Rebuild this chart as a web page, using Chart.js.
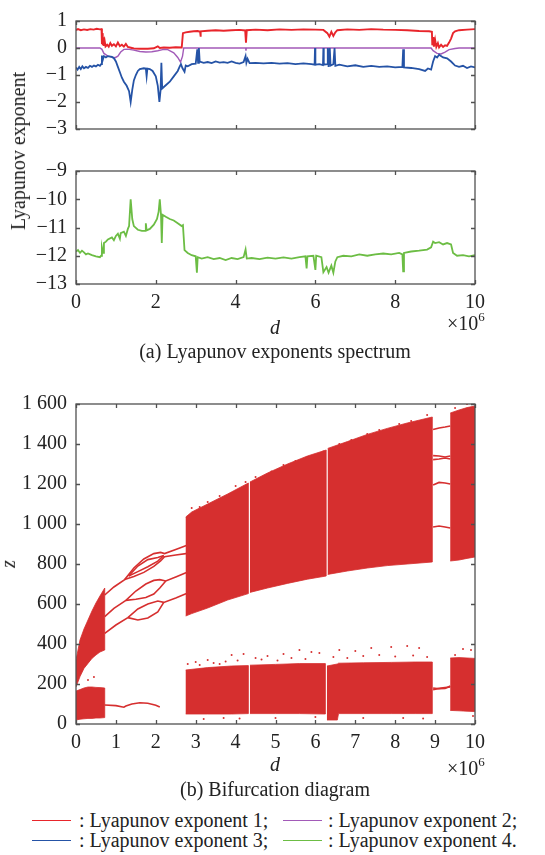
<!DOCTYPE html>
<html>
<head>
<meta charset="utf-8">
<script src="https://cdn.jsdelivr.net/npm/chart.js@4.4.1/dist/chart.umd.min.js"></script>
<style>
  body { margin: 0; background: #fff; }
  #wrap { position: relative; width: 545px; height: 855px; font-family: "Liberation Serif", "Times New Roman", serif; color: #222; }
  canvas { position: absolute; left: 0; }
  .t { position: absolute; white-space: nowrap; font-size: 20px; line-height: 20px; }
  .c { transform: translateX(-50%); }
  .sw { position: absolute; height: 0; border-top: 1.5px solid; width: 39px; }
  sup { font-size: 13px; line-height: 0; position: relative; top: -1px; }
</style>
</head>
<body>
<div id="wrap">
  <canvas id="lyapTop" style="top:0" width="545" height="150"></canvas>
  <canvas id="lyapBottom" style="top:150px" width="545" height="170"></canvas>
  <canvas id="bifurcation" style="top:380px" width="545" height="380"></canvas>

  <div class="t" style="left:18px; top:151px; transform: translate(-50%, -50%) rotate(-90deg);">Lyapunov exponent</div>
  <div class="t c" style="left:275px; top:317px; font-style:italic;">d</div>
  <div class="t" style="left:447px; top:313px;">×10<sup>6</sup></div>
  <div class="t c" style="left:275px; top:341px;">(a) Lyapunov exponents spectrum</div>

  <div class="t" style="left:4px; top:554px; transform: rotate(-90deg); font-style:italic;">z</div>
  <div class="t c" style="left:275px; top:754px; font-style:italic;">d</div>
  <div class="t" style="left:447px; top:758px;">×10<sup>6</sup></div>
  <div class="t c" style="left:275px; top:779px;">(b) Bifurcation diagram</div>

  <div class="sw" style="left:32px; top:820px; border-color:#e8252b;"></div>
  <div class="t" style="left:79px; top:810px;">: Lyapunov exponent 1;</div>
  <div class="sw" style="left:283px; top:820px; border-color:#a25ab8;"></div>
  <div class="t" style="left:328px; top:810px;">: Lyapunov exponent 2;</div>
  <div class="sw" style="left:32px; top:840px; border-color:#2553a6;"></div>
  <div class="t" style="left:79px; top:830px;">: Lyapunov exponent 3;</div>
  <div class="sw" style="left:283px; top:840px; border-color:#6cbd44;"></div>
  <div class="t" style="left:328px; top:830px;">: Lyapunov exponent 4.</div>
</div>

<script>
// d is given in units of 10^6
const RED = "#e8252b";
const PURPLE = "#a25ab8";
const BLUE = "#2553a6";
const GREEN = "#6cbd44";
const BIF = "#d62f2f";

// Lyapunov exponent 1
const le1D = [0, 0.05, 0.12, 0.2, 0.28, 0.36, 0.44, 0.52, 0.6, 0.64, 0.65, 0.66, 0.67, 0.69, 0.7, 0.72, 0.74, 0.78, 0.82, 0.86, 0.9, 0.95, 1.0, 1.05, 1.1, 1.15, 1.2, 1.25, 1.3, 1.35, 1.45, 1.6, 1.8, 1.95, 2.05, 2.1, 2.2, 2.35, 2.5, 2.65, 2.68, 2.75, 2.85, 2.95, 3.05, 3.11, 3.12, 3.13, 3.3, 3.5, 3.7, 3.9, 4.1, 4.24, 4.26, 4.28, 4.5, 4.8, 5.1, 5.4, 5.7, 6.0, 6.2, 6.3, 6.35, 6.4, 6.45, 6.5, 6.55, 6.8, 7.1, 7.4, 7.7, 8.0, 8.3, 8.6, 8.85, 8.92, 8.93, 8.95, 8.97, 9.0, 9.03, 9.07, 9.1, 9.15, 9.2, 9.25, 9.3, 9.35, 9.4, 9.45, 9.5, 9.6, 9.8, 10];
const le1 = [0.66, 0.70, 0.66, 0.69, 0.67, 0.70, 0.68, 0.71, 0.69, 0.70, 0.15, 0.55, 0.10, 0.40, 0.08, 0.25, 0.06, 0.12, 0.05, 0.18, 0.08, 0.14, 0.06, 0.20, 0.07, 0.12, 0.05, 0.15, 0.04, 0.02, -0.02, -0.03, -0.03, -0.01, 0.06, 0.0, 0.02, 0.01, 0.03, 0.02, 0.55, 0.58, 0.60, 0.62, 0.63, 0.60, 0.42, 0.62, 0.64, 0.66, 0.64, 0.66, 0.67, 0.65, 0.20, 0.66, 0.68, 0.66, 0.69, 0.67, 0.69, 0.68, 0.67, 0.55, 0.42, 0.60, 0.45, 0.58, 0.66, 0.69, 0.67, 0.70, 0.68, 0.67, 0.66, 0.63, 0.62, 0.60, 0.10, 0.40, 0.05, 0.30, 0.04, 0.18, 0.02, 0.12, 0.04, 0.10, 0.08, 0.20, 0.35, 0.55, 0.62, 0.66, 0.68, 0.70];

// Lyapunov exponent 2
const le2D = [0, 0.6, 0.65, 0.7, 0.8, 0.9, 0.98, 1.05, 1.12, 1.2, 1.3, 1.45, 1.6, 1.75, 1.9, 2.05, 2.2, 2.3, 2.45, 2.55, 2.62, 2.67, 2.7, 4.25, 4.26, 4.27, 8.9, 8.95, 9.05, 9.15, 9.25, 9.35, 9.5, 9.6, 10];
const le2 = [0, 0, -0.05, -0.2, -0.3, -0.34, -0.36, -0.3, -0.15, -0.05, -0.04, -0.08, -0.13, -0.15, -0.14, -0.1, -0.05, -0.06, -0.18, -0.35, -0.52, -0.3, 0, 0, -0.1, 0, 0, -0.1, -0.2, -0.22, -0.15, -0.06, -0.02, 0, 0];

// Lyapunov exponent 3
const le3D = [0, 0.04, 0.08, 0.12, 0.16, 0.2, 0.25, 0.3, 0.35, 0.4, 0.45, 0.5, 0.55, 0.6, 0.63, 0.65, 0.67, 0.7, 0.75, 0.8, 0.9, 0.95, 1.0, 1.05, 1.1, 1.15, 1.2, 1.27, 1.33, 1.37, 1.41, 1.45, 1.5, 1.55, 1.6, 1.7, 1.75, 1.77, 1.79, 1.85, 1.92, 2.0, 2.05, 2.09, 2.12, 2.14, 2.16, 2.25, 2.35, 2.45, 2.55, 2.6, 2.63, 2.67, 2.72, 2.75, 2.8, 2.9, 3.0, 3.04, 3.06, 3.08, 3.1, 3.2, 3.3, 3.4, 3.5, 3.6, 3.7, 3.8, 3.9, 4.0, 4.1, 4.2, 4.25, 4.27, 4.3, 4.35, 4.5, 4.7, 4.9, 5.1, 5.3, 5.5, 5.7, 5.9, 5.98, 5.99, 6.0, 6.1, 6.19, 6.2, 6.21, 6.3, 6.31, 6.33, 6.36, 6.38, 6.45, 6.48, 6.5, 6.6, 6.8, 7.0, 7.2, 7.4, 7.6, 7.8, 8.0, 8.18, 8.2, 8.22, 8.4, 8.6, 8.75, 8.82, 8.9, 8.95, 9.0, 9.05, 9.1, 9.2, 9.3, 9.4, 9.5, 9.6, 9.7, 9.8, 9.9, 10];
const le3 = [-0.72, -0.80, -0.70, -0.78, -0.68, -0.75, -0.70, -0.74, -0.66, -0.70, -0.65, -0.68, -0.62, -0.66, -0.60, -0.28, -0.45, -0.30, -0.35, -0.30, -0.33, -0.38, -0.50, -0.70, -0.90, -1.10, -1.25, -1.40, -1.60, -2.00, -1.55, -1.20, -1.00, -0.85, -0.78, -0.75, -0.76, -1.05, -0.76, -0.78, -0.85, -1.05, -1.40, -2.00, -1.55, -0.55, -1.50, -1.38, -1.25, -1.05, -0.85, -0.68, -0.60, -0.75, -0.88, -0.65, -0.68, -0.60, -0.58, -0.05, -0.55, 0, -0.50, -0.55, -0.52, -0.56, -0.50, -0.54, -0.52, -0.55, -0.50, -0.55, -0.58, -0.52, -0.30, -0.55, -0.40, -0.56, -0.55, -0.57, -0.55, -0.58, -0.56, -0.60, -0.57, -0.60, -0.62, 0, -0.62, -0.60, -0.63, 0, -0.62, -0.60, 0, -0.70, 0, -0.65, -0.60, 0, -0.66, -0.62, -0.68, -0.64, -0.70, -0.66, -0.70, -0.68, -0.72, -0.70, -0.05, -0.72, -0.74, -0.78, -0.85, -0.76, -0.80, -0.50, -0.30, -0.35, -0.25, -0.35, -0.38, -0.50, -0.65, -0.70, -0.66, -0.74, -0.68, -0.72];

// Lyapunov exponent 4
const le4D = [0, 0.05, 0.1, 0.15, 0.2, 0.25, 0.3, 0.4, 0.5, 0.6, 0.63, 0.65, 0.68, 0.7, 0.75, 0.8, 0.9, 0.95, 1.0, 1.05, 1.1, 1.12, 1.2, 1.25, 1.3, 1.33, 1.37, 1.41, 1.45, 1.55, 1.65, 1.73, 1.75, 1.77, 1.85, 1.95, 2.03, 2.07, 2.1, 2.13, 2.15, 2.17, 2.25, 2.35, 2.45, 2.55, 2.65, 2.68, 2.72, 2.8, 2.9, 3.0, 3.03, 3.05, 3.15, 3.3, 3.45, 3.6, 3.75, 3.9, 4.05, 4.2, 4.25, 4.28, 4.4, 4.6, 4.8, 5.0, 5.2, 5.4, 5.6, 5.75, 5.78, 5.8, 5.95, 6.0, 6.02, 6.15, 6.2, 6.28, 6.33, 6.4, 6.45, 6.5, 6.55, 6.7, 6.9, 7.1, 7.3, 7.5, 7.7, 7.9, 8.1, 8.18, 8.2, 8.22, 8.4, 8.6, 8.8, 8.9, 8.95, 9.0, 9.1, 9.2, 9.3, 9.4, 9.45, 9.55, 9.7, 9.85, 10];
const le4 = [-11.85, -11.80, -11.90, -11.82, -11.88, -11.95, -11.92, -11.98, -12.02, -12.05, -12.00, -11.70, -11.90, -11.55, -11.50, -11.42, -11.35, -11.45, -11.30, -11.22, -11.40, -11.20, -11.15, -11.30, -11.05, -10.95, -10.00, -10.70, -10.95, -11.08, -11.12, -11.12, -10.85, -11.10, -11.05, -10.90, -10.70, -10.45, -10.00, -10.55, -11.55, -10.55, -10.62, -10.70, -10.75, -10.85, -10.95, -10.92, -11.80, -11.90, -11.98, -12.02, -12.60, -12.05, -12.10, -12.05, -12.12, -12.08, -12.15, -12.08, -12.12, -12.05, -11.78, -12.10, -12.08, -12.12, -12.07, -12.10, -12.06, -12.10, -12.05, -12.02, -12.45, -12.02, -12.00, -12.50, -12.00, -12.05, -12.58, -12.40, -12.60, -12.35, -12.60, -12.20, -12.05, -12.00, -12.02, -11.95, -12.00, -11.95, -11.92, -11.95, -11.90, -11.95, -12.55, -11.90, -11.85, -11.82, -11.78, -11.70, -11.50, -11.55, -11.52, -11.60, -11.55, -11.60, -11.90, -12.00, -11.98, -12.02, -11.98];

// Bifurcation diagram: chaotic bands (lower / upper edge of z), null = periodic window
const bandLeftD = [0, 0.1, 0.2, 0.3, 0.4, 0.5, 0.6, 0.72];
const bandLeftLow = [185, 237, 278, 303, 328, 345, 360, 370];
const bandLeftHigh = [320, 420, 475, 520, 565, 605, 640, 680];
const bandLeftBottomLow = [20, 24, 26, 28, 28, 30, 30, 32];
const bandLeftBottomHigh = [165, 172, 180, 185, 185, 183, 182, 180];

const bandUpperD = [2.75, 2.9, 3.3, 3.8, 4.32, 4.34, 4.36, 4.8, 5.3, 5.8, 6.27, 6.29, 6.31, 6.8, 7.3, 7.8, 8.3, 8.93];
const bandUpperLow = [540, 552, 580, 620, 652, null, 658, 680, 703, 724, 740, null, 748, 765, 780, 792, 800, 810];
const bandUpperHigh = [1035, 1060, 1100, 1150, 1205, null, 1210, 1255, 1300, 1340, 1370, null, 1378, 1412, 1448, 1478, 1505, 1535];

const bandLowerD = [2.75, 3.3, 3.9, 4.32, 4.34, 4.36, 5.0, 5.6, 6.25, 6.27, 6.29, 6.55, 6.58, 7.2, 7.9, 8.5, 8.93];
const bandLowerLow = [50, 50, 50, 52, null, 52, 52, 52, 50, null, 20, 20, 52, 52, 52, 52, 52];
const bandLowerHigh = [270, 282, 290, 292, null, 294, 298, 302, 302, null, 290, 300, 304, 306, 308, 310, 310];

const bandRightD = [9.38, 9.6, 9.8, 10];
const bandRightLow = [815, 820, 828, 835];
const bandRightHigh = [1555, 1570, 1582, 1590];
const bandRightBottomLow = [68, 66, 64, 62];
const bandRightBottomHigh = [330, 332, 330, 328];

// scattered points along the band edges
const strayD = [2.8, 3.0, 3.3, 3.6, 3.9, 4.2, 4.5, 4.8, 5.2, 5.6, 5.9, 6.1, 6.6, 7.0, 7.4, 7.9, 8.3, 8.6, 9.7, 9.9,
                3.1, 3.45, 3.75, 4.05, 4.65, 5.05, 5.4, 5.75, 6.45, 6.8, 7.2, 7.6, 8.0, 8.45, 8.8, 9.5,
                3.2, 3.7, 4.1, 5.0, 6.0, 7.2, 8.2, 8.7, 9.95,
                2.9, 3.3, 4.0, 4.5, 5.2, 5.8, 6.6, 7.3, 8.1, 8.8, 9.5, 9.8,
                3.1, 3.6, 4.25, 4.9, 5.5, 6.2, 6.9, 7.6, 8.4, 0.45, 0.3];
const strayZ = [300, 310, 320, 300, 345, 350, 330, 340, 350, 370, 360, 355, 370, 365, 380, 385, 390, 380, 375, 370,
               295, 305, 312, 318, 322, 318, 330, 325, 335, 330, 340, 345, 338, 342, 335, 345,
               25, 30, 28, 30, 35, 30, 30, 28, 40,
               1080, 1110, 1190, 1235, 1295, 1335, 1400, 1450, 1500, 1545, 1580, 1600,
               1085, 1140, 1210, 1262, 1315, 1362, 1420, 1470, 1515, 235, 220];

// periodic branches between the chaotic bands
const br1D = [0.72, 0.95, 1.22, 1.45, 1.7, 1.95, 2.12, 2.22, 2.5, 2.8];
const br1Z = [645, 685, 722, 780, 825, 852, 858, 852, 873, 895];
const br2D = [1.22, 1.45, 1.7, 1.95, 2.12, 2.22, 2.5, 2.8];
const br2Z = [722, 738, 758, 788, 815, 836, 845, 853];
const br3D = [1.32, 1.55, 1.8, 2.05, 2.2];
const br3Z = [740, 790, 822, 832, 842];
const br4D = [1.32, 1.55, 1.8, 2.05, 2.2];
const br4Z = [740, 762, 786, 814, 842];
const br5D = [0.72, 0.95, 1.25, 1.5, 1.75, 1.95, 2.1, 2.25, 2.5, 2.8];
const br5Z = [537, 578, 618, 665, 700, 718, 722, 715, 735, 760];
const br6D = [1.25, 1.5, 1.75, 1.95, 2.1, 2.25];
const br6Z = [618, 624, 632, 650, 680, 715];
const br7D = [0.72, 1.0, 1.3, 1.55, 1.8, 2.05, 2.2, 2.5, 2.8];
const br7Z = [453, 495, 532, 575, 600, 615, 608, 630, 655];
const br8D = [1.3, 1.55, 1.8, 2.05, 2.2];
const br8Z = [532, 520, 530, 560, 608];
const br9D = [0.72, 1.0, 1.2, 1.25, 1.4, 1.6, 1.8, 2.0, 2.1];
const br9Z = [95, 92, 84, 90, 100, 106, 104, 94, 85];

const windowD = [8.95, 9.1, 9.25, 9.38];
const window1 = [1472, 1480, 1485, 1490];
const window2 = [1342, 1340, 1335, 1340];
const window3 = [1322, 1325, 1330, 1325];
const window4 = [1195, 1208, 1205, 1200];
const window5 = [985, 990, 985, 980];
const window6 = [172, 178, 182, 185];
const window7 = [180, 176, 178, 190];

Chart.defaults.font.family = "'Liberation Serif', 'Times New Roman', serif";
Chart.defaults.font.size = 20;
Chart.defaults.color = "#222";
Chart.defaults.animation = false;

function points(xs, ys) {
  return xs.map((x, i) => ({ x, y: ys[i] }));
}

function lineSet(xs, ys, color, width) {
  return {
    type: "line",
    data: points(xs, ys),
    borderColor: color,
    borderWidth: width,
    pointRadius: 0,
    fill: false,
    tension: 0
  };
}

// splits a band at nulls; each run becomes one closed outline
// (lower edge left to right, upper edge back) filled as a shape
function bandSets(xs, low, high, color) {
  const sets = [];
  let start = 0;
  for (let i = 0; i <= xs.length; i++) {
    if (i === xs.length || low[i] === null) {
      if (i > start) {
        const lowerEdge = points(xs.slice(start, i), low.slice(start, i));
        const upperEdge = points(xs.slice(start, i), high.slice(start, i)).reverse();
        sets.push({
          type: "line",
          data: lowerEdge.concat(upperEdge),
          borderColor: color,
          borderWidth: 0.8,
          backgroundColor: color,
          pointRadius: 0,
          fill: "shape",
          tension: 0
        });
      }
      start = i + 1;
    }
  }
  return sets;
}

function minus(v) {
  return String(v).replace("-", "\u2212");
}

// frame with inward ticks on all four sides
const frame = {
  id: "frame",
  afterDraw(chart) {
    const { ctx, chartArea: a } = chart;
    const x = chart.scales.x;
    const y = chart.scales.y;
    const len = 4;
    ctx.save();
    ctx.strokeStyle = "#505050";
    ctx.lineWidth = 1.3;
    ctx.strokeRect(a.left, a.top, a.right - a.left, a.bottom - a.top);
    ctx.beginPath();
    x.ticks.forEach(t => {
      const px = Math.round(x.getPixelForValue(t.value)) + 0.5;
      ctx.moveTo(px, a.bottom); ctx.lineTo(px, a.bottom - len);
      ctx.moveTo(px, a.top); ctx.lineTo(px, a.top + len);
    });
    y.ticks.forEach(t => {
      const py = Math.round(y.getPixelForValue(t.value)) + 0.5;
      ctx.moveTo(a.left, py); ctx.lineTo(a.left + len, py);
      ctx.moveTo(a.right, py); ctx.lineTo(a.right - len, py);
    });
    ctx.stroke();
    ctx.restore();
  }
};

function makeOptions(o) {
  return {
    responsive: false,
    maintainAspectRatio: false,
    devicePixelRatio: 1,
    layout: { autoPadding: false, padding: { left: 0, right: 70, top: o.top, bottom: 0 } },
    plugins: { legend: { display: false }, tooltip: { enabled: false } },
    scales: {
      x: {
        type: "linear",
        min: 0,
        max: 10,
        grid: { display: false, drawTicks: false },
        border: { display: false },
        ticks: { display: o.xLabels, stepSize: o.xStep, padding: 7, maxRotation: 0 },
        afterFit: s => { s.height = o.xHeight; }
      },
      y: {
        min: o.yMin,
        max: o.yMax,
        grid: { display: false, drawTicks: false },
        border: { display: false },
        ticks: { stepSize: o.yStep, padding: 9, callback: o.yFormat },
        afterFit: s => { s.width = 76; }
      }
    }
  };
}

new Chart(document.getElementById("lyapTop"), {
  type: "line",
  data: {
    datasets: [
      lineSet(le3D, le3, BLUE, 1.8),
      lineSet(le2D, le2, PURPLE, 1.4),
      lineSet(le1D, le1, RED, 1.9)
    ]
  },
  options: makeOptions({ top: 15, xHeight: 13, xLabels: false, xStep: 2, yMin: -3, yMax: 1, yStep: 1, yFormat: v => minus(v) }),
  plugins: [frame]
});

new Chart(document.getElementById("lyapBottom"), {
  type: "line",
  data: { datasets: [lineSet(le4D, le4, GREEN, 1.8)] },
  options: makeOptions({ top: 13, xHeight: 36, xLabels: true, xStep: 2, yMin: -13, yMax: -9, yStep: 1, yFormat: v => minus(v) }),
  plugins: [frame]
});

const bifSets = [
  ...bandSets(bandLeftD, bandLeftLow, bandLeftHigh, BIF),
  ...bandSets(bandLeftD, bandLeftBottomLow, bandLeftBottomHigh, BIF),
  ...bandSets(bandUpperD, bandUpperLow, bandUpperHigh, BIF),
  ...bandSets(bandLowerD, bandLowerLow, bandLowerHigh, BIF),
  ...bandSets(bandRightD, bandRightLow, bandRightHigh, BIF),
  ...bandSets(bandRightD, bandRightBottomLow, bandRightBottomHigh, BIF),
  lineSet(br1D, br1Z, BIF, 1.6),
  lineSet(br2D, br2Z, BIF, 1.6),
  lineSet(br3D, br3Z, BIF, 1.6),
  lineSet(br4D, br4Z, BIF, 1.6),
  lineSet(br5D, br5Z, BIF, 1.6),
  lineSet(br6D, br6Z, BIF, 1.6),
  lineSet(br7D, br7Z, BIF, 1.6),
  lineSet(br8D, br8Z, BIF, 1.6),
  lineSet(br9D, br9Z, BIF, 1.6),
  lineSet(windowD, window1, BIF, 1.6),
  lineSet(windowD, window2, BIF, 1.6),
  lineSet(windowD, window3, BIF, 1.6),
  lineSet(windowD, window4, BIF, 1.6),
  lineSet(windowD, window5, BIF, 1.6),
  lineSet(windowD, window6, BIF, 1.6),
  lineSet(windowD, window7, BIF, 1.6),
  {
    type: "scatter",
    data: points(strayD, strayZ),
    pointRadius: 1,
    pointBorderWidth: 0,
    pointBackgroundColor: BIF
  }
];

new Chart(document.getElementById("bifurcation"), {
  type: "line",
  data: { datasets: bifSets },
  options: makeOptions({
    top: 24, xHeight: 36, xLabels: true, xStep: 1, yMin: 0, yMax: 1600, yStep: 200,
    yFormat: v => v >= 1000 ? Math.floor(v / 1000) + " " + String(v % 1000).padStart(3, "0") : String(v)
  }),
  plugins: [frame]
});
</script>
</body>
</html>
